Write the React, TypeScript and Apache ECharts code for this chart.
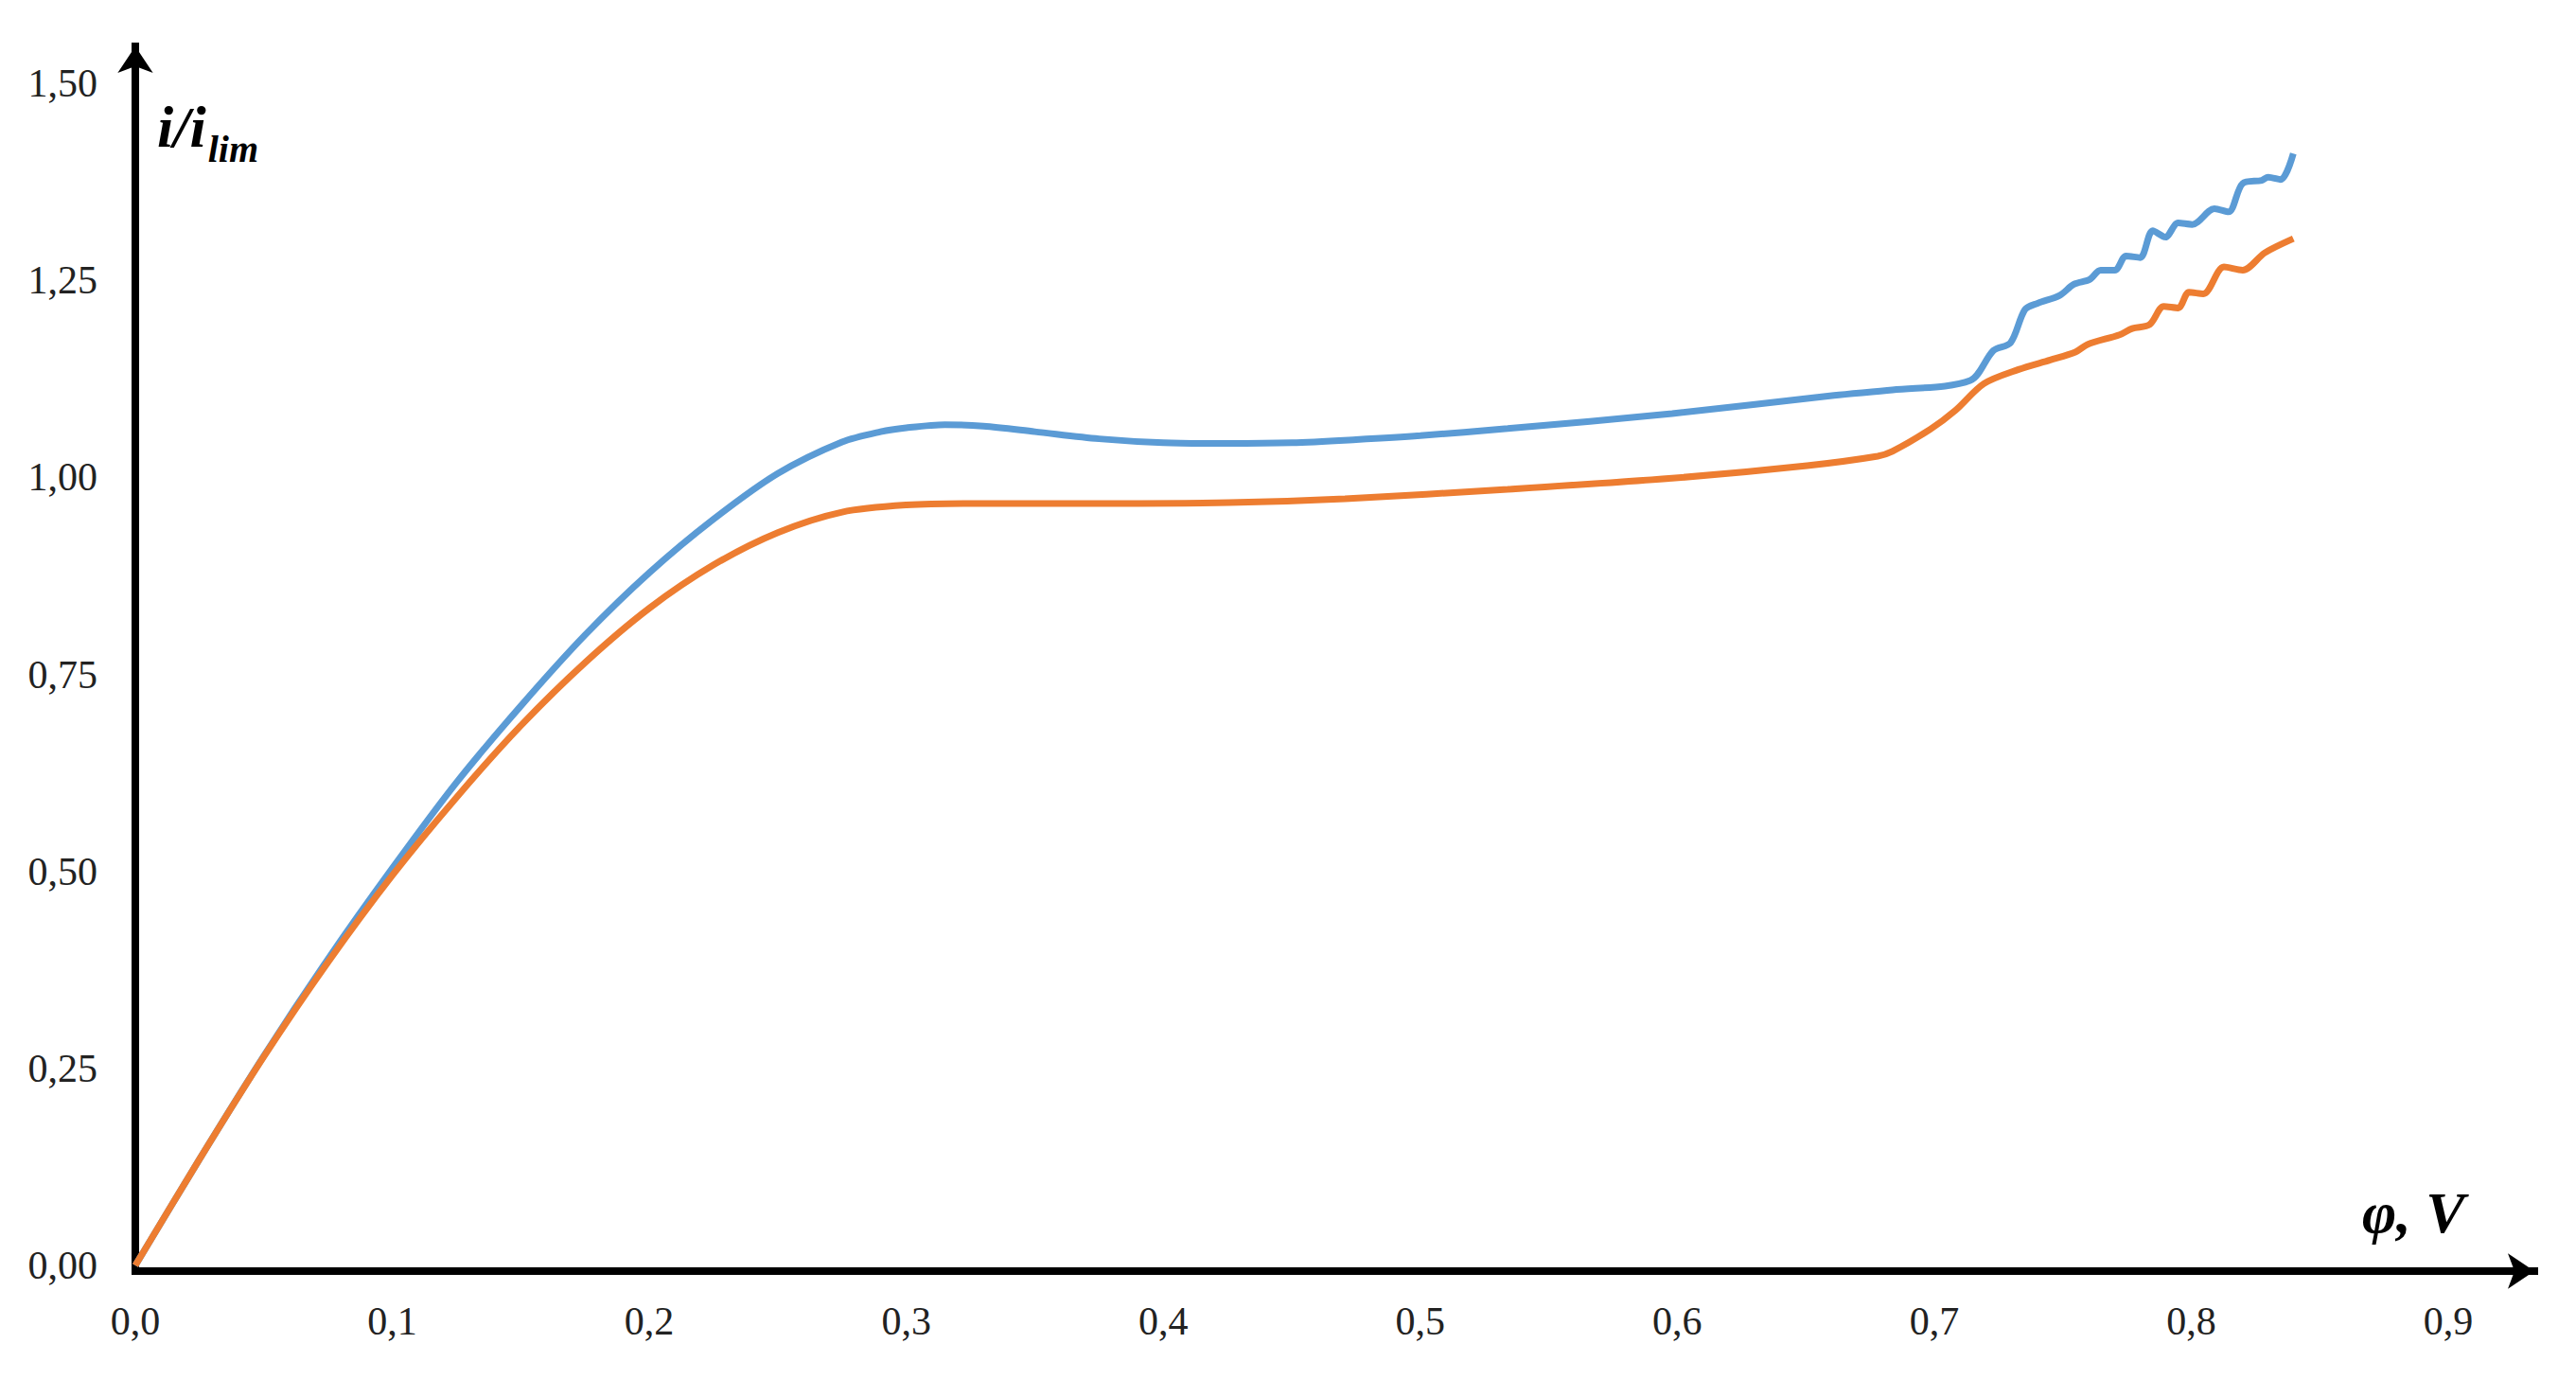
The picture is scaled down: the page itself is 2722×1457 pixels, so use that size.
import React, { useEffect, useRef } from "react";
import * as echarts from "echarts";

// Series 1 (blue)
const phiBlue = [
  0, 0.025, 0.05, 0.075, 0.1, 0.125, 0.15, 0.175, 0.2, 0.225,
  0.25, 0.275, 0.29, 0.3, 0.315, 0.33, 0.35, 0.375, 0.4, 0.425,
  0.45, 0.475, 0.5, 0.534, 0.598, 0.661, 0.6837, 0.714, 0.723, 0.7297,
  0.7353, 0.7402, 0.7488, 0.7543, 0.7604, 0.7647, 0.7703, 0.7746, 0.7801, 0.785,
  0.7899, 0.7949, 0.8004, 0.809, 0.8145, 0.82, 0.8274, 0.8299, 0.8348, 0.8397,
];
const iBlue = [
  0, 0.135, 0.266, 0.389, 0.504, 0.613, 0.71, 0.8, 0.879, 0.947,
  1.005, 1.045, 1.058, 1.063, 1.067, 1.065, 1.058, 1.049, 1.044, 1.043,
  1.044, 1.048, 1.053, 1.062, 1.081, 1.104, 1.111, 1.123, 1.161, 1.171,
  1.213, 1.221, 1.231, 1.245, 1.251, 1.263, 1.263, 1.281, 1.279, 1.313,
  1.305, 1.323, 1.321, 1.341, 1.337, 1.373, 1.377, 1.381, 1.378, 1.411,
];

// Series 2 (orange)
const phiOrange = [
  0, 0.025, 0.05, 0.075, 0.1, 0.125, 0.15, 0.175, 0.2, 0.225,
  0.25, 0.275, 0.3, 0.325, 0.38, 0.4257, 0.4707, 0.534, 0.598, 0.6505,
  0.678, 0.6837, 0.6984, 0.7082, 0.7193, 0.7328, 0.7451, 0.7549, 0.7598, 0.7721,
  0.777, 0.7838, 0.7893, 0.7949, 0.7991, 0.8047, 0.8127, 0.82, 0.8286, 0.8397,
];
const iOrange = [
  0, 0.135, 0.265, 0.385, 0.495, 0.594, 0.685, 0.765, 0.834, 0.889,
  0.93, 0.956, 0.965, 0.967, 0.967, 0.968, 0.973, 0.985, 0.999, 1.015,
  1.027, 1.033, 1.061, 1.085, 1.119, 1.137, 1.149, 1.159, 1.169, 1.181,
  1.189, 1.194, 1.217, 1.215, 1.235, 1.233, 1.267, 1.263, 1.285, 1.303,
];

const xTickLabels = ["0,0", "0,1", "0,2", "0,3", "0,4", "0,5", "0,6", "0,7", "0,8", "0,9"];
const yTickLabels = ["0,00", "0,25", "0,50", "0,75", "1,00", "1,25", "1,50"];

const zip = (xs: number[], ys: number[]) => xs.map((x, i) => [x, ys[i]]);

const FONT = "Liberation Serif";
const MAIN_FONT = `italic bold 62px ${FONT}`;
const SUB_FONT = `italic bold 40px ${FONT}`;

function measure(font: string, text: string): number {
  const c = document.createElement("canvas").getContext("2d");
  if (!c) return text.length * 20;
  c.font = font;
  return c.measureText(text).width;
}

export default function App() {
  const ref = useRef<HTMLDivElement>(null);
  useEffect(() => {
    if (!ref.current) return;
    const chart = echarts.init(ref.current, undefined, { renderer: "svg" });
    const axisLine = {
      show: true,
      onZero: false,
      symbol: ["none", "arrow"],
      symbolSize: [28, 28],
      lineStyle: { color: "#000", width: 8, cap: "square" },
    };
    const mainW = measure(MAIN_FONT, "i/i");
    chart.setOption({
      animation: false,
      backgroundColor: "#fff",
      grid: { left: 143, right: 44, top: 49, bottom: 120, containLabel: false },
      xAxis: {
        type: "value",
        min: 0,
        max: 0.9335,
        interval: 0.1,
        offset: 6,
        axisLine,
        axisTick: { show: false },
        splitLine: { show: false },
        axisLabel: {
          showMaxLabel: false,
          margin: 32,
          fontFamily: FONT,
          fontSize: 42,
          color: "#222",
          formatter: (v: number) => xTickLabels[Math.round(v / 0.1)] ?? "",
        },
      },
      yAxis: {
        type: "value",
        min: 0,
        max: 1.547,
        interval: 0.25,
        axisLine,
        axisTick: { show: false },
        splitLine: { show: false },
        axisLabel: {
          showMaxLabel: false,
          margin: 40,
          fontFamily: FONT,
          fontSize: 42,
          color: "#222",
          formatter: (v: number) => yTickLabels[Math.round(v / 0.25)] ?? "",
        },
      },
      series: [
        {
          type: "line",
          data: zip(phiBlue, iBlue),
          showSymbol: false,
          symbol: "none",
          smooth: 0.3,
          lineStyle: { color: "#5B9BD5", width: 7 },
          itemStyle: { color: "#5B9BD5" },
        },
        {
          type: "line",
          data: zip(phiOrange, iOrange),
          showSymbol: false,
          symbol: "none",
          smooth: 0.3,
          lineStyle: { color: "#ED7D31", width: 7 },
          itemStyle: { color: "#ED7D31" },
        },
      ],
      graphic: [
        {
          type: "text",
          x: 166,
          y: 134,
          style: {
            text: "i/i",
            font: MAIN_FONT,
            fill: "#000",
            verticalAlign: "middle",
          },
        },
        {
          type: "text",
          x: 166 + mainW + 2,
          y: 157,
          style: {
            text: "lim",
            font: SUB_FONT,
            fill: "#000",
            verticalAlign: "middle",
          },
        },
        {
          type: "text",
          x: 2496,
          y: 1281,
          style: {
            text: "φ, V",
            font: MAIN_FONT,
            fill: "#000",
            verticalAlign: "middle",
          },
        },
      ],
    });
    return () => chart.dispose();
  }, []);
  return (
    <div
      ref={ref}
      style={{ position: "absolute", left: 0, top: 0, width: 2722, height: 1457 }}
    />
  );
}
